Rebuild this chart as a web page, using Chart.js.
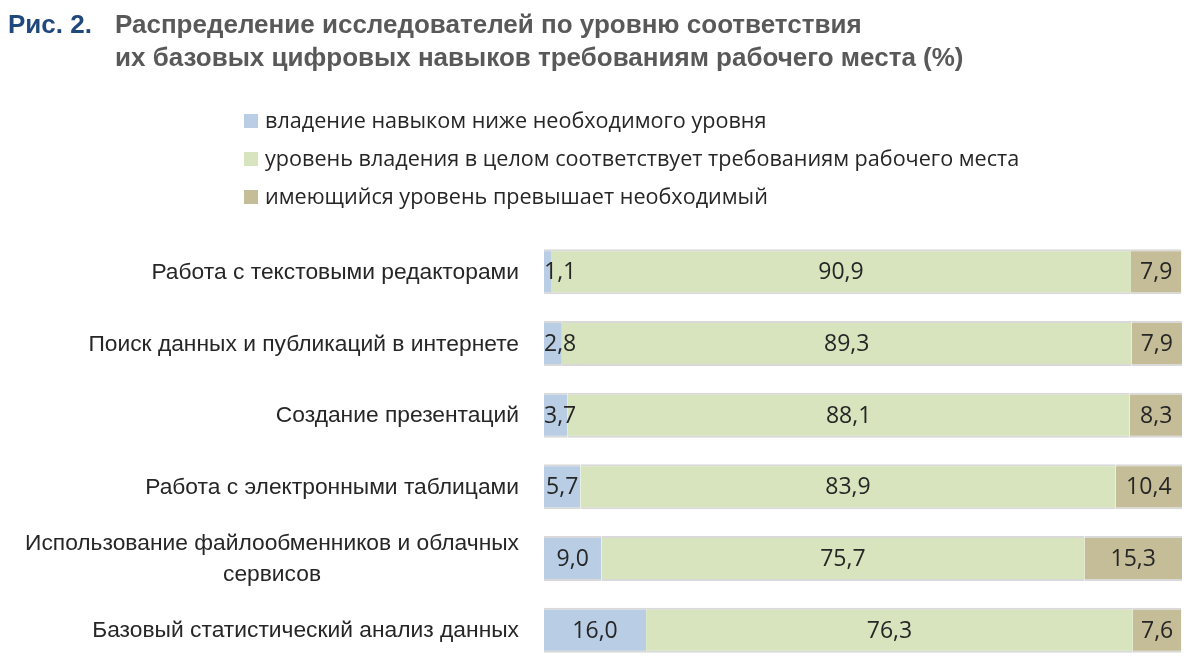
<!DOCTYPE html>
<html><head><meta charset="utf-8">
<script src="https://cdn.jsdelivr.net/npm/chart.js@4/dist/chart.umd.min.js"></script>
<style>
html,body{margin:0;padding:0;width:1200px;height:661px;overflow:hidden;background:#fff;}
#wrap{position:relative;width:1200px;height:661px;}
canvas{position:absolute;left:0;top:0;}
.t{position:absolute;font-family:"Liberation Sans",Arial,sans-serif;font-weight:bold;font-size:26px;white-space:nowrap;}
.lg{position:absolute;left:244px;font-family:"Open Sans",sans-serif;font-size:21.6px;color:#262626;white-space:nowrap;line-height:26px;}
.lg span{display:inline-block;width:14px;height:14px;margin-right:7px;vertical-align:0px;}
</style></head>
<body><div id="wrap">
<canvas id="c" width="1200" height="680"></canvas>
<div class="t" style="left:8px;top:8px;color:#1f497d;line-height:33px;">Рис. 2.</div>
<div class="t" style="left:115px;top:8px;color:#595959;line-height:33px;">Распределение исследователей по уровню соответствия<br>их базовых цифровых навыков требованиям рабочего места (%)</div>
<div id="legend"></div>
</div>
<script>
const categories = [
  "Работа с текстовыми редакторами",
  "Поиск данных и публикаций в интернете",
  "Создание презентаций",
  "Работа с электронными таблицами",
  ["Использование файлообменников и облачных", "сервисов"],
  "Базовый статистический анализ данных"
];
const seriesNames = [
  "владение навыком ниже необходимого уровня",
  "уровень владения в целом соответствует требованиям рабочего места",
  "имеющийся уровень превышает необходимый"
];
const below = [1.1, 2.8, 3.7, 5.7, 9.0, 16.0];
const matches = [90.9, 89.3, 88.1, 83.9, 75.7, 76.3];
const above = [7.9, 7.9, 8.3, 10.4, 15.3, 7.6];
const colors = ["#b9cde5", "#d7e4bd", "#c4bd97"];

// HTML legend
const lg = document.getElementById('legend');
seriesNames.forEach((n, i) => {
  const d = document.createElement('div');
  d.className = 'lg';
  d.style.top = (107 + i * 38) + 'px';
  d.innerHTML = '<span style="background:' + colors[i] + '"></span>' + n;
  lg.appendChild(d);
});

const fmt = v => v.toFixed(1).replace('.', ',');

const labelPlugin = {
  id: 'labels',
  afterDatasetsDraw(chart) {
    const ctx = chart.ctx;
    ctx.save();
    ctx.fillStyle = '#262626';
    ctx.textBaseline = 'middle';
    ctx.font = '23px "Open Sans", sans-serif';
    chart.data.datasets.forEach((ds, di) => {
      const meta = chart.getDatasetMeta(di);
      meta.data.forEach((el, i) => {
        const txt = fmt(ds.data[i]);
        const w = ctx.measureText(txt).width;
        const left = Math.min(el.base, el.x), right = Math.max(el.base, el.x);
        const seg = right - left;
        let x, align;
        if (w + 4 > seg && di === 0) { x = left; align = 'left'; }
        else { x = (left + right) / 2; align = 'center'; }
        ctx.textAlign = align;
        ctx.fillText(txt, x, el.y + 1);
      });
    });
    // category labels
    const ys = chart.scales.y;
    ctx.font = '22.8px "Liberation Sans", Arial, sans-serif';
    ctx.fillStyle = '#262626';
    categories.forEach((c, i) => {
      const y = ys.getPixelForValue(i) + 1;
      if (Array.isArray(c)) {
        const mw = Math.max(...c.map(s => ctx.measureText(s).width));
        const cx = 519 - mw / 2;
        ctx.textAlign = 'center';
        const lh = 31;
        c.forEach((s, k) => ctx.fillText(s, cx, y + (k - (c.length - 1) / 2) * lh));
      } else {
        ctx.textAlign = 'right';
        ctx.fillText(c, 519, y);
      }
    });
    ctx.restore();
  }
};

const mk = (label, data, color) => ({
  label, data, backgroundColor: color,
  borderColor: '#d9d9d9',
  borderWidth: {top: 2, bottom: 2, left: 0, right: 0},
  borderSkipped: false,
  barPercentage: 0.628, categoryPercentage: 1.0
});

new Chart(document.getElementById('c'), {
  type: 'bar',
  data: {
    labels: categories,
    datasets: [
      mk(seriesNames[0], below, colors[0]),
      mk(seriesNames[1], matches, colors[1]),
      mk(seriesNames[2], above, colors[2])
    ]
  },
  options: {
    indexAxis: 'y',
    responsive: false,
    animation: false,
    layout: {padding: {left: 544, right: 18, top: 236, bottom: 14}},
    plugins: {legend: {display: false}, tooltip: {enabled: false}, title: {display: false}},
    scales: {
      x: {stacked: true, min: 0, max: 100, display: false},
      y: {stacked: true, display: false}
    }
  },
  plugins: [labelPlugin]
});
</script>
</body></html>
